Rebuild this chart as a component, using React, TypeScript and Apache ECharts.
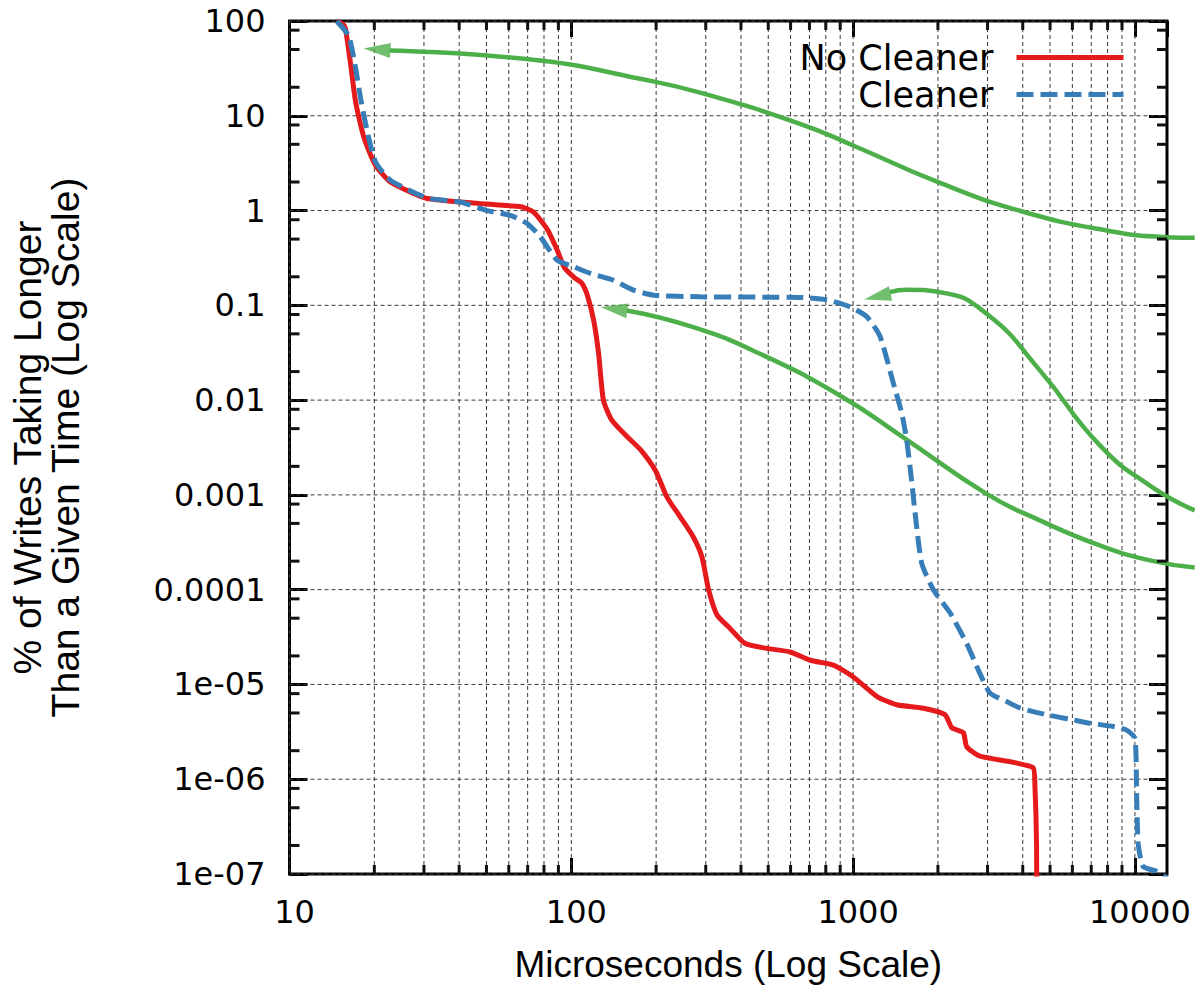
import React, { useEffect, useRef } from 'react';
import * as echarts from 'echarts';

const RED = '#e41a1c';
const BLUE = '#377eb8';
const GREEN = '#4daf4a';
const FONT = '"Liberation Sans", Arial, Helvetica, sans-serif';
const WIDE_FONT = '"DejaVu Sans", "Liberation Sans", sans-serif';

const X_MIN = 10;
const X_MAX = 13000;
const Y_MIN = 1e-7;
const Y_MAX = 100;

const xLabelValues = [10, 100, 1000, 10000];
const xLabels = ['10', '100', '1000', '10000'];
const yLabelValues = [1e-7, 1e-6, 1e-5, 1e-4, 1e-3, 1e-2, 0.1, 1, 10, 100];
const yLabels = ['1e-07', '1e-06', '1e-05', '0.0001', '0.001', '0.01', '0.1', '1', '10', '100'];
const xMinorFactors = [2, 3, 4, 5, 6, 7, 8, 9];
const yMinorFactors = [2, 5, 8];

// No Cleaner: [microseconds, % of writes taking longer]
const noCleaner: [number, number][] = [
  [14.7, 100], [15.5, 92], [15.8, 83], [16.5, 34], [17.1, 15], [17.9, 7.9], [18.6, 5.3],
  [20.2, 3.0], [22.8, 2.0], [27.6, 1.51], [30.8, 1.34], [40.4, 1.23], [50.2, 1.17],
  [60.8, 1.12], [66.9, 1.09], [73.5, 0.96], [82.0, 0.64], [89.2, 0.38], [94.5, 0.25],
  [103, 0.194], [109, 0.171], [114, 0.128], [120, 0.07], [125, 0.031], [130, 0.01],
  [139, 0.0062], [158, 0.0041], [176, 0.003], [199, 0.0018], [218, 0.00096], [243, 0.00059],
  [271, 0.00036], [291, 0.00022], [307, 0.0001], [329, 5.4e-5], [366, 3.9e-5], [414, 2.7e-5],
  [494, 2.4e-5], [598, 2.2e-5], [704, 1.8e-5], [851, 1.6e-5], [1002, 1.2e-5], [1213, 7.5e-6],
  [1429, 6.1e-6], [1775, 5.6e-6], [2119, 4.8e-6], [2239, 3.5e-6], [2461, 3.1e-6],
  [2530, 2.2e-6], [2820, 1.75e-6], [4357, 1.32e-6], [4419, 8.4e-7], [4478, 2.0e-7], [4490, 1e-8],
];

// Cleaner
const cleaner: [number, number][] = [
  [14.7, 100], [16.2, 70], [17.1, 34], [17.9, 15], [18.9, 6.7], [20.2, 3.25], [22.8, 2.09],
  [30.8, 1.36], [40.4, 1.23], [50.2, 1.0], [60.8, 0.89], [69.7, 0.73], [77.6, 0.53],
  [89, 0.3], [102, 0.255], [117, 0.217], [141, 0.184], [166, 0.145], [196, 0.128],
  [287, 0.123], [649, 0.121], [807, 0.114], [976, 0.096], [1118, 0.076], [1246, 0.047],
  [1390, 0.015], [1488, 0.0073], [1549, 0.0038], [1614, 0.0014], [1660, 0.00064],
  [1752, 0.00019], [1927, 1.0e-4], [2208, 5.7e-5], [2530, 2.7e-5], [2820, 1.3e-5],
  [3062, 8.1e-6], [3508, 6.6e-6], [3908, 5.65e-6], [4995, 4.7e-6], [5884, 4.3e-6],
  [6920, 3.9e-6], [8375, 3.6e-6], [9346, 3.3e-6], [10000, 2.7e-6], [10140, 7.2e-7],
  [10270, 2.1e-7], [10700, 1.2e-7], [11940, 1.07e-7], [13000, 9e-8],
];

// Annotation arrows (from their tail at the right edge to the arrowhead base)
const arrowToStart: [number, number][] = [
  [16300, 0.519], [12960, 0.527], [7935, 0.62], [3908, 1.0], [2007, 2.0], [1002, 4.88],
  [649, 8.26], [287, 17.6], [176, 24.6], [77.6, 38.3], [22.8, 48.9],
];
const arrowToCleanerKnee: [number, number][] = [
  [16300, 0.000695], [11300, 0.00127], [7516, 0.00337], [4603, 0.0208], [2980, 0.0822],
  [2034, 0.1387], [1549, 0.147], [1353, 0.139],
];
const arrowToNoCleanerKnee: [number, number][] = [
  [16300, 0.000174], [11300, 0.000207], [7516, 0.000297], [4603, 0.000546], [2980, 0.00104],
  [1508, 0.0041], [899, 0.0113], [468, 0.0311], [271.5, 0.0594], [157.6, 0.089],
];
// arrowhead centres
const arrowHeads: [number, number][] = [[20.5, 50.1], [1221, 0.125], [142, 0.0923]];
const arrowHeadAngles = [86, 103, 82];

// layout of the plot frame (pixels)
const GRID_LEFT = 289;
const GRID_TOP = 21;
const GRID_RIGHT = 28;
const GRID_BOTTOM = 113;
const CHART_W = 1195;
const CHART_H = 988;
const plotW = CHART_W - GRID_LEFT - GRID_RIGHT;
const wideW = CHART_W - GRID_LEFT;
// a wider, hidden x scale with identical px-per-decade so annotations can run past the frame
const X2_MAX = Math.pow(10, 1 + (Math.log10(X_MAX) - 1) * (wideW / plotW));

function labelFor(values: number[], labels: string[]) {
  return (v: number) => {
    const i = values.findIndex((t) => Math.abs(Math.log10(t) - Math.log10(v)) < 1e-6);
    return i >= 0 ? labels[i] : '';
  };
}

const xMinorValues: number[] = [];
xLabelValues.forEach((d) => xMinorFactors.forEach((f) => { if (d * f < X_MAX) xMinorValues.push(d * f); }));
const yMinorValues: number[] = [];
yLabelValues.forEach((d) => { if (d < Y_MAX) yMinorFactors.forEach((f) => yMinorValues.push(d * f)); });

// grid lines: [x, y, kind(0 vertical,1 horizontal)]
const gridData: number[][] = [
  ...xLabelValues.map((v) => [v, 1, 0]),
  ...xMinorValues.map((v) => [v, 1, 0]),
  ...yLabelValues.map((v) => [10, v, 1]),
];

const gridRender = (params: any, api: any) => {
  const cs = params.coordSys;
  const kind = api.value(2);
  const style = { stroke: '#3a3a3a', lineWidth: 1, lineDash: [4, 3] };
  if (kind === 0) {
    const px = api.coord([api.value(0), 1])[0];
    return { type: 'line', shape: { x1: px, y1: cs.y, x2: px, y2: cs.y + cs.height }, style };
  }
  const py = api.coord([10, api.value(1)])[1];
  return { type: 'line', shape: { x1: cs.x, y1: py, x2: cs.x + cs.width, y2: py }, style };
};

// minor tick marks on all four sides, as small bars anchored on the frame (inside points)
const TICK_W = 3;
const minorTickMarks: any[] = [];
xMinorValues.forEach((v) => {
  minorTickMarks.push(
    { value: [v, Y_MIN * 1.0001], symbolSize: [TICK_W, 9], symbolOffset: [0, -4.5] },
    { value: [v, Y_MAX * 0.9999], symbolSize: [TICK_W, 9], symbolOffset: [0, 4.5] },
  );
});
yMinorValues.forEach((v) => {
  minorTickMarks.push(
    { value: [X_MIN * 1.0001, v], symbolSize: [10, TICK_W], symbolOffset: [5, 0] },
    { value: [X_MAX * 0.9999, v], symbolSize: [10, TICK_W], symbolOffset: [-5, 0] },
  );
});

const majorTick = (len: number) => ({
  show: true, inside: true, length: len, lineStyle: { color: '#000', width: 3 },
});

export default function App() {
  const ref = useRef<HTMLDivElement>(null);
  useEffect(() => {
    if (!ref.current) return;
    const chart = echarts.init(ref.current, undefined, { renderer: 'svg' });
    const greenLine = (data: [number, number][]) => ({
      type: 'line',
      data,
      xAxisIndex: 1,
      yAxisIndex: 1,
      symbol: 'none',
      smooth: 0.5,
      silent: true,
      z: 2,
      lineStyle: { color: GREEN, width: 4.5 },
    });
    chart.setOption({
      animation: false,
      backgroundColor: '#fff',
      grid: [
        {
          left: GRID_LEFT, top: GRID_TOP, right: GRID_RIGHT, bottom: GRID_BOTTOM,
          show: true, borderWidth: 3, borderColor: '#000', backgroundColor: 'transparent',
        },
        { left: GRID_LEFT, top: GRID_TOP, right: 0, bottom: GRID_BOTTOM, show: false },
      ],
      xAxis: [
        {
          type: 'log', logBase: 10, min: X_MIN, max: X_MAX, gridIndex: 0, position: 'bottom',
          axisLine: { show: false }, axisTick: majorTick(16), splitLine: { show: false },
          axisLabel: {
            formatter: labelFor(xLabelValues, xLabels), fontSize: 32, fontFamily: WIDE_FONT,
            color: '#000', margin: 22, showMaxLabel: false, padding: [0, 0, 0, 10],
          },
          name: 'Microseconds (Log Scale)', nameLocation: 'middle', nameGap: 72,
          nameTextStyle: { fontSize: 37, fontFamily: FONT, color: '#000' },
        },
        { type: 'log', logBase: 10, min: X_MIN, max: X2_MAX, gridIndex: 1, show: false },
        {
          type: 'log', logBase: 10, min: X_MIN, max: X_MAX, gridIndex: 0, position: 'top',
          axisLine: { show: false }, axisTick: majorTick(16), splitLine: { show: false },
          axisLabel: { show: false },
        },
      ],
      yAxis: [
        {
          type: 'log', logBase: 10, min: Y_MIN, max: Y_MAX, splitNumber: 9, gridIndex: 0, position: 'left',
          axisLine: { show: false }, axisTick: majorTick(18), splitLine: { show: false },
          axisLabel: {
            formatter: labelFor(yLabelValues, yLabels), fontSize: 32, fontFamily: WIDE_FONT,
            color: '#000', margin: 24,
          },
          name: '% of Writes Taking Longer\nThan a Given Time (Log Scale)',
          nameLocation: 'middle', nameRotate: 90, nameGap: 205,
          nameTextStyle: { fontSize: 39, fontFamily: FONT, color: '#000', lineHeight: 38 },
        },
        { type: 'log', logBase: 10, min: Y_MIN, max: Y_MAX, gridIndex: 1, show: false },
        {
          type: 'log', logBase: 10, min: Y_MIN, max: Y_MAX, splitNumber: 9, gridIndex: 0, position: 'right',
          axisLine: { show: false }, axisTick: majorTick(18), splitLine: { show: false },
          axisLabel: { show: false },
        },
      ],
      legend: {
        data: ['No Cleaner', 'Cleaner'],
        orient: 'vertical', right: 64, top: 34, align: 'right',
        itemWidth: 107, itemHeight: 14, itemGap: 0,
        itemStyle: { opacity: 0 },
        lineStyle: { width: 5 },
        textStyle: { fontSize: 35, fontFamily: WIDE_FONT, color: '#000', padding: [0, 18, 0, 0], lineHeight: 37 },
      },
      series: [
        { type: 'custom', name: 'gridlines', silent: true, z: 1, renderItem: gridRender, data: gridData },
        greenLine(arrowToStart),
        greenLine(arrowToCleanerKnee),
        greenLine(arrowToNoCleanerKnee),
        {
          type: 'scatter', name: 'heads', silent: true, z: 2, xAxisIndex: 1, yAxisIndex: 1,
          symbol: 'triangle', symbolSize: [15, 27],
          itemStyle: { color: GREEN },
          data: arrowHeads.map((p, i) => ({ value: p, symbolRotate: arrowHeadAngles[i] })),
        },
        {
          type: 'line', name: 'No Cleaner', data: noCleaner, symbol: 'none', smooth: 0.2, z: 3,
          lineStyle: { color: RED, width: 5 }, itemStyle: { color: RED },
        },
        {
          type: 'line', name: 'Cleaner', data: cleaner, symbol: 'none', smooth: 0.2, z: 3,
          lineStyle: { color: BLUE, width: 5, type: [17, 7] }, itemStyle: { color: BLUE },
        },
        {
          type: 'scatter', name: 'minor ticks', silent: true, clip: false, z: 6,
          symbol: 'rect', itemStyle: { color: '#111111', opacity: 1 },
          data: minorTickMarks,
        },
      ],
    });
    return () => chart.dispose();
  }, []);
  return (
    <div
      ref={ref}
      style={{ position: 'absolute', left: 0, top: 0, width: CHART_W, height: CHART_H, background: '#fff' }}
    />
  );
}
